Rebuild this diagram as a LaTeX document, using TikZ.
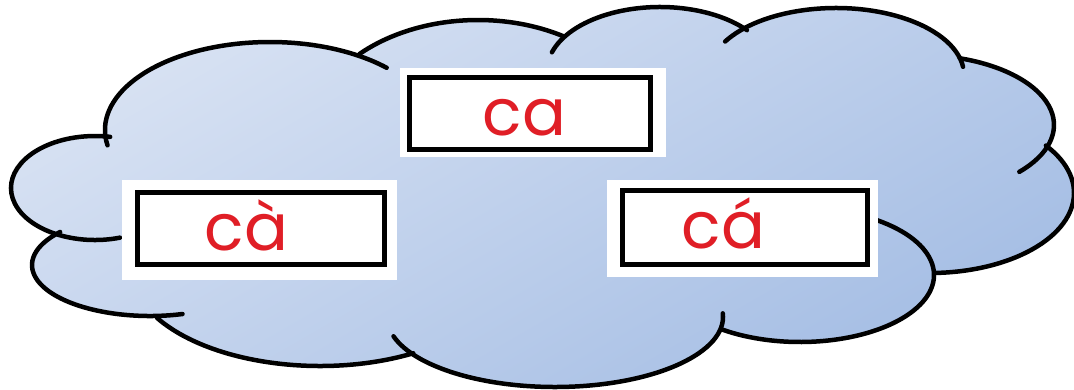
\documentclass[tikz,border=0pt]{standalone}
\usepackage{fontspec}
\usetikzlibrary{calc}
\newfontfamily\cloudfont{Poppins}
\definecolor{txtred}{RGB}{224,30,38}
\definecolor{cloudlight}{RGB}{216,226,243}
\definecolor{clouddark}{RGB}{164,189,228}
\begin{document}
\begin{tikzpicture}[x=1pt,y=-1pt,
  bump/.style={line width=4.5pt, line cap=round, line join=round},
  whitebg/.style={fill=white, draw=none, inner sep=0pt},
  blackbox/.style={fill=white, draw=black, line width=5pt, inner sep=0pt},
  lbl/.style={text=txtred, inner sep=0pt, anchor=base, font=\cloudfont\fontsize{65}{65}\selectfont}]
\useasboundingbox[fill=white] (0,0) rectangle (1074,389);
% cloud fill (outer contour made of elliptic bumps)
\shade[top color=cloudlight, bottom color=clouddark, shading angle=30]
     ($(95,188)+(113.8:84 and 52)$)   arc[start angle=113.8, end angle=280.4, x radius=84,  y radius=52]
  -- ($(270,130)+(175:165 and 88)$)   arc[start angle=175,   end angle=301.4, x radius=165, y radius=88]
  -- ($(478,140)+(225.8:170 and 120)$) arc[start angle=225.8, end angle=300.2, x radius=170, y radius=120]
  -- ($(660,71)+(211.7:113 and 64)$)  arc[start angle=211.7, end angle=320.3, x radius=113, y radius=64]
  -- ($(836,75)+(224:128 and 67)$)    arc[start angle=224,   end angle=345.3, x radius=128, y radius=67]
  -- ($(919,125)+(287.6:135 and 70)$) arc[start angle=287.6, end angle=376.8, x radius=135, y radius=70]
  -- ($(930,193)+(323.6:144 and 80)$) arc[start angle=323.6, end angle=448,   x radius=144, y radius=80]
  -- ($(800,275)+(-2:134 and 67)$)    arc[start angle=-2,    end angle=126,   x radius=134, y radius=67]
  -- ($(555,317)+(10.7:168 and 70)$)  arc[start angle=10.7,  end angle=148.7, x radius=168, y radius=70]
  -- ($(320,267)+(60.6:190 and 99)$)  arc[start angle=60.6,  end angle=149,   x radius=190, y radius=99]
  -- ($(150,265)+(86:118 and 51)$)    arc[start angle=86,    end angle=220.4, x radius=118, y radius=51]
  -- cycle;
% cloud bump outlines (with their inner ends)
\draw[bump] ($(95,188)+(72.7:84 and 52)$)   arc[start angle=72.7,  end angle=280.4, x radius=84,  y radius=52];
\draw[bump] ($(270,130)+(170:165 and 88)$)  arc[start angle=170,   end angle=315,   x radius=165, y radius=88];
\draw[bump] ($(478,140)+(225.8:170 and 120)$) arc[start angle=225.8, end angle=300.2, x radius=170, y radius=120];
\draw[bump] ($(660,71)+(197:113 and 64)$)   arc[start angle=197,   end angle=320.3, x radius=113, y radius=64];
\draw[bump] ($(836,75)+(210:128 and 67)$)   arc[start angle=210,   end angle=353,   x radius=128, y radius=67];
\draw[bump] ($(919,125)+(287.6:135 and 70)$) arc[start angle=287.6, end angle=402,   x radius=135, y radius=70];
\draw[bump] ($(930,193)+(323.6:144 and 80)$) arc[start angle=323.6, end angle=448,   x radius=144, y radius=80];
\draw[bump] ($(800,275)+(-55:134 and 67)$)  arc[start angle=-55,   end angle=126,   x radius=134, y radius=67];
\draw[bump] ($(555,317)+(-3:168 and 70)$)   arc[start angle=-3,    end angle=164,   x radius=168, y radius=70];
\draw[bump] ($(320,267)+(60.6:190 and 99)$) arc[start angle=60.6,  end angle=149,   x radius=190, y radius=99];
\draw[bump] ($(150,265)+(74:118 and 51)$)   arc[start angle=74,    end angle=220.4, x radius=118, y radius=51];
% word boxes
\node[whitebg, minimum width=266pt, minimum height=89pt] (wca) at (533,112.5) {};
\node[blackbox, minimum width=241pt, minimum height=72pt] (bca) at (530,113.5) {};
\node[whitebg, minimum width=275pt, minimum height=100pt] (wcagrave) at (259.5,230) {};
\node[blackbox, minimum width=247pt, minimum height=72pt] (bcagrave) at (261,228.5) {};
\node[whitebg, minimum width=271pt, minimum height=97pt] (wcaacute) at (742.5,228.5) {};
\node[blackbox, minimum width=245pt, minimum height=74pt] (bcaacute) at (745,227.5) {};
\node[lbl] (tca) at (524.5,135) {ca};
\node[lbl] (tcagrave) at (246.5,250) {cà};
\node[lbl] (tcaacute) at (723.5,248) {cá};
\end{tikzpicture}
\end{document}
